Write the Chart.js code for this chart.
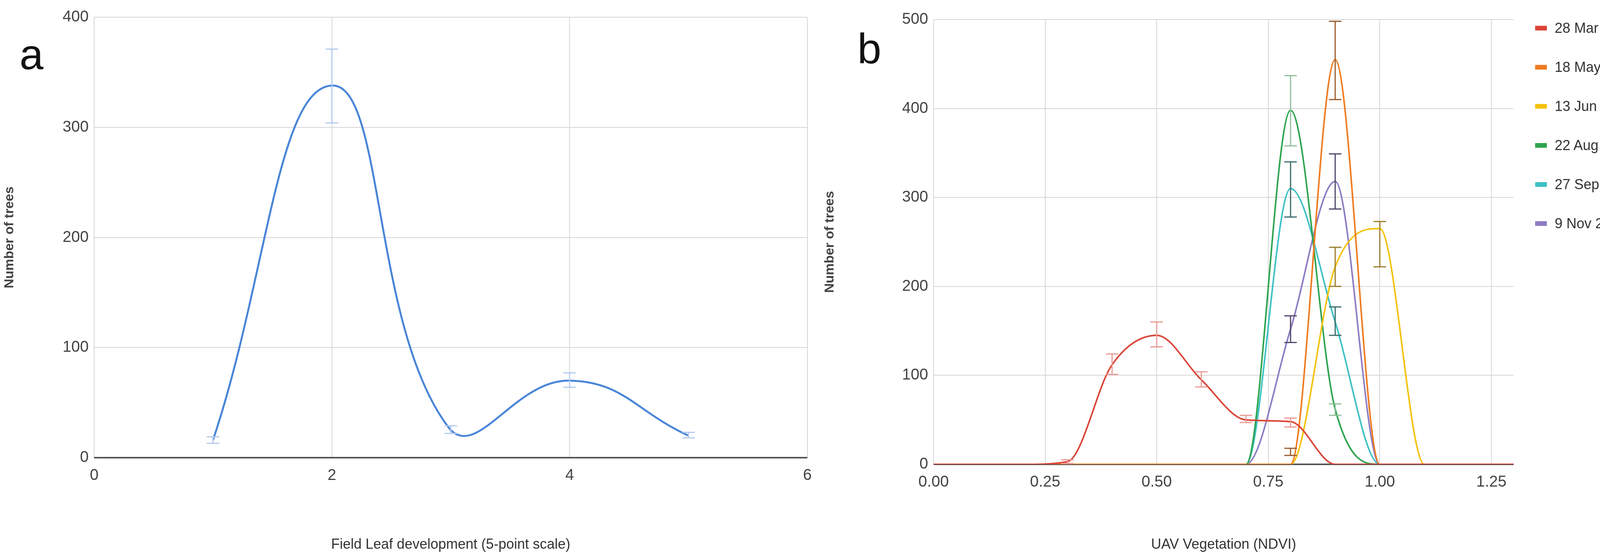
<!DOCTYPE html>
<html>
<head>
<meta charset="utf-8">
<script src="https://cdn.jsdelivr.net/npm/chart.js@4"></script>
<style>
  body { margin: 0; background: #fff; width: 4320px; height: 1420px; position: relative; overflow: hidden; font-family: "Liberation Sans Narrow", "Liberation Sans", sans-serif; }
  .panel { position: absolute; top: 0; height: 1420px; }
  .tag { position: absolute; font-family: "Liberation Sans", sans-serif; font-size: 110px; color: #111; }
  #legend { position: absolute; left: 3930px; top: 22px; font-size: 36px; color: #333; white-space: nowrap; }
  #legend div { height: 100px; display: flex; align-items: center; }
  #legend span { display: inline-block; width: 30px; height: 12px; margin-right: 20px; }
</style>
</head>
<body>
<div class="panel" style="left:0;width:2100px"><canvas id="chartA" width="2100" height="1420"></canvas></div>
<div class="panel" style="left:2100px;width:1850px"><canvas id="chartB" width="1850" height="1420"></canvas></div>
<div class="tag" style="left:50px;top:75px">a</div>
<div class="tag" style="left:2195px;top:60px">b</div>
<div id="legend"></div>
<script>
// Panel a: field leaf development
const leafScores = [1, 2, 3, 4, 5];
const leafCounts = [16, 338, 25, 70, 20];
const leafErrLow = [13, 304, 22, 64, 18];
const leafErrHigh = [19, 371, 29, 77, 23];
const leafTicks = [0, 2, 4, 6];

// Panel b: NDVI distributions by date
const ndviBins = [0, 0.1, 0.2, 0.3, 0.4, 0.5, 0.6, 0.7, 0.8, 0.9, 1.0, 1.1, 1.2, 1.3];
const dateLabels = ["28 Mar 2018", "18 May 2018", "13 Jun 2018", "22 Aug 2018", "27 Sep 2018", "9 Nov 2018"];
const dateColors = ["#db4437", "#f07b1f", "#f4c20d", "#2ea44f", "#3fc1c4", "#8e7cc3"];
const errColors = ["#e89a94", "#9a5a2a", "#9a7d2a", "#8fbf9a", "#3a6a6a", "#4d4466"];
const mar = [0, 0, 0, 3, 112, 145, 95, 50, 48, 0, 0, 0, 0, 0];
const may = [0, 0, 0, 0, 0, 0, 0, 0, 0, 455, 0, 0, 0, 0];
const jun = [0, 0, 0, 0, 0, 0, 0, 0, 0, 222, 265, 0, 0, 0];
const aug = [0, 0, 0, 0, 0, 0, 0, 0, 398, 62, 0, 0, 0, 0];
const sep = [0, 0, 0, 0, 0, 0, 0, 0, 310, 160, 0, 0, 0, 0];
const nov = [0, 0, 0, 0, 0, 0, 0, 0, 152, 318, 0, 0, 0, 0];
// error bars: [bin, low, high]
const marErr = [[0.3, 1, 5], [0.4, 101, 124], [0.5, 132, 160], [0.6, 87, 104], [0.7, 47, 55], [0.8, 42, 52]];
const mayErr = [[0.8, 10, 18], [0.9, 410, 498]];
const junErr = [[0.9, 200, 244], [1.0, 222, 273]];
const augErr = [[0.8, 358, 437], [0.9, 55, 68]];
const sepErr = [[0.8, 278, 340], [0.9, 145, 177]];
const novErr = [[0.8, 137, 167], [0.9, 287, 349]];
const ndviTicks = [0, 0.25, 0.5, 0.75, 1.0, 1.25];

const FONT = "'Liberation Sans Narrow', 'Liberation Sans', sans-serif";
const gridColor = "#d6d6d6";

const errorBars = {
  id: "errorBars",
  afterDatasetsDraw(chart) {
    const ctx = chart.ctx, xs = chart.scales.x, ys = chart.scales.y;
    chart.data.datasets.forEach(ds => {
      (ds.errBars || []).forEach(([x, lo, hi]) => {
        const px = xs.getPixelForValue(x);
        ctx.save();
        ctx.strokeStyle = ds.errColor;
        ctx.lineWidth = 3;
        ctx.beginPath();
        ctx.moveTo(px, ys.getPixelForValue(lo));
        ctx.lineTo(px, ys.getPixelForValue(hi));
        [lo, hi].forEach(v => {
          const py = ys.getPixelForValue(v);
          ctx.moveTo(px - 16, py);
          ctx.lineTo(px + 16, py);
        });
        ctx.stroke();
        ctx.restore();
      });
    });
  }
};

function axes(xMin, xMax, yMax, yStep, xTitle, fmt, yWidth, xHeight) {
  return {
    x: {
      type: "linear", min: xMin, max: xMax,
      afterFit: s => { s.height = xHeight; },
      afterBuildTicks: s => { s.ticks = (fmt ? ndviTicks : leafTicks).map(v => ({ value: v })); },
      grid: { color: gridColor, lineWidth: 2, drawTicks: false },
      border: { display: false },
      ticks: { font: { size: 40, family: FONT }, color: "#444", padding: 22, callback: v => fmt ? v.toFixed(2) : v },
      title: { display: true, text: xTitle, font: { size: 36, family: FONT }, color: "#333", padding: { top: 70 } }
    },
    y: {
      min: 0, max: yMax,
      afterFit: s => { s.width = yWidth; },
      grid: { color: c => c.tick.value === 0 ? "#555" : gridColor, lineWidth: c => c.tick.value === 0 ? 4 : 2, drawTicks: false },
      border: { display: false },
      ticks: { stepSize: yStep, font: { size: 40, family: FONT }, color: "#444", padding: 14 },
      title: { display: true, text: "Number of trees", font: { size: 34, family: "'Liberation Sans', sans-serif", weight: "bold" }, color: "#444", padding: { bottom: 40 } }
    }
  };
}

new Chart(document.getElementById("chartA"), {
  type: "line",
  data: {
    datasets: [{
      data: leafScores.map((x, i) => ({ x, y: leafCounts[i] })),
      borderColor: "#4a86d8", borderWidth: 5, pointRadius: 0, tension: 0.45,
      errBars: leafScores.map((x, i) => [x, leafErrLow[i], leafErrHigh[i]]),
      errColor: "#b3c9ee"
    }]
  },
  options: {
    responsive: false, animation: false, devicePixelRatio: 1,
    layout: { padding: { top: 44, right: 27, left: 0, bottom: 0 } },
    plugins: { legend: { display: false }, tooltip: { enabled: false } },
    scales: axes(0, 6, 400, 100, "Field Leaf development (5-point scale)", false, 241, 249)
  },
  plugins: [errorBars]
});

const series = [mar, may, jun, aug, sep, nov];
const errs = [marErr, mayErr, junErr, augErr, sepErr, novErr];
new Chart(document.getElementById("chartB"), {
  type: "line",
  data: {
    datasets: series.map((vals, k) => ({
      label: dateLabels[k],
      data: ndviBins.map((x, i) => ({ x, y: vals[i] })),
      borderColor: dateColors[k], borderWidth: 4, pointRadius: 0,
      cubicInterpolationMode: "monotone",
      errBars: errs[k], errColor: errColors[k]
    }))
  },
  options: {
    responsive: false, animation: false, devicePixelRatio: 1,
    layout: { padding: { top: 50, right: 75, left: 0, bottom: 0 } },
    plugins: { legend: { display: false }, tooltip: { enabled: false } },
    scales: axes(0, 1.3, 500, 100, "UAV Vegetation (NDVI)", true, 290, 232)
  },
  plugins: [errorBars]
});

const legend = document.getElementById("legend");
dateLabels.forEach((name, k) => {
  const row = document.createElement("div");
  row.innerHTML = `<span style="background:${dateColors[k]}"></span>${name}`;
  legend.appendChild(row);
});
</script>
</body>
</html>
